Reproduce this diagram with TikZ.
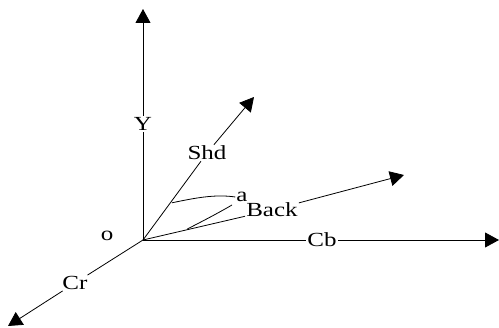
\documentclass[tikz,border=0pt]{standalone}
\usepackage{fontspec}
\newfontfamily\lblfont[FakeStretch=1.25]{Liberation Serif}
\usetikzlibrary{arrows.meta,calc}

\begin{document}
\begin{tikzpicture}[
    x={(1pt,0pt)}, y={(0pt,-1pt)},
    >={Triangle[length=14pt,width=15pt]},
    axis/.style={line width=0.8pt},
    lbl/.style={inner sep=1pt, font=\lblfont\fontsize{20}{20}\selectfont}
]
    \useasboundingbox (0,0) rectangle (499,328);

    % --- Origin and axis tips ---
    \coordinate (O) at (143,240);
    \coordinate (Ytip) at (143,9);
    \coordinate (Shdtip) at (254,97);
    \coordinate (Backtip) at (404,175);
    \coordinate (Cbtip) at (499,240);
    \coordinate (Crtip) at (8,326);

    % --- Axis labels ---
    \node[lbl] (Y) at (143,124) {Y};
    \node[lbl] (Shd) at (207,153) {Shd};
    \node[lbl] (Back) at (272,210) {Back};
    \node[lbl] (Cb) at (322,240) {Cb};
    \node[lbl] (Cr) at (75,283) {Cr};
    \node[lbl] (o) at (107,236) {o};
    \node[lbl] (a) at (242,197) {a};

    % --- Axes ---
    \draw[axis] (O) -- (Y);
    \draw[axis, ->] (Y) -- (Ytip);
    \draw[axis] (O) -- (Shd);
    \draw[axis, ->] (Shd) -- (Shdtip);
    \draw[axis] (O) -- (Back);
    \draw[axis, ->] (Back) -- (Backtip);
    \draw[axis] (O) -- (Cb);
    \draw[axis, ->] (Cb) -- (Cbtip);
    \draw[axis] (O) -- (Cr);
    \draw[axis, ->] (Cr) -- (Crtip);

    % --- Angle marks ---
    \coordinate (s1) at ($(O)!0.26!(Shdtip)$);
    \coordinate (b1) at ($(O)!0.17!(Backtip)$);
    \draw[axis] (s1) .. controls (195,198) and (215,194) .. (a.west);
    \draw[axis] (b1) .. controls (205,220) and (220,212) .. (232,205);

\end{tikzpicture}
\end{document}
